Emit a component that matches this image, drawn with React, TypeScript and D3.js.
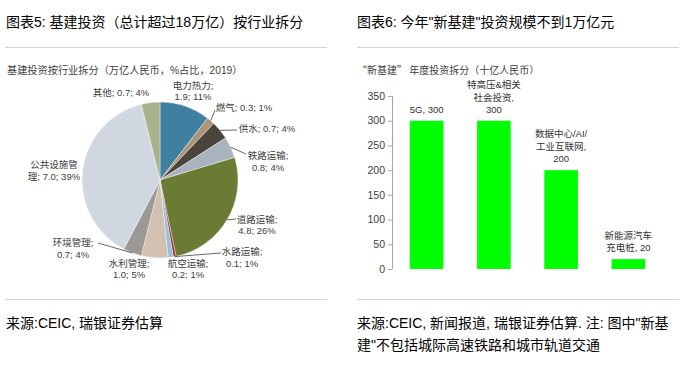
import React from "react";
import * as d3 from "d3";

// ---------- Data ----------
const pieNames = ["电力热力", "燃气", "供水", "铁路运输", "道路运输", "水路运输", "航空运输", "水利管理", "环境管理", "公共设施管理", "其他"];
const pieValues = [1.9, 0.3, 0.7, 0.8, 4.8, 0.1, 0.2, 1.0, 0.7, 7.0, 0.7];
const piePct = [11, 1, 4, 4, 26, 1, 1, 5, 4, 39, 4];
const pieColors = ["#3f7f9f", "#ad9478", "#4b433d", "#a9b2bf", "#6a7c33", "#a32a2a", "#92c0dd", "#d4c0b1", "#9c9994", "#d0d7e1", "#a8b28c"];

const barCategories = ["5G", "特高压&相关社会投资", "数据中心/AI/工业互联网", "新能源汽车充电桩"];
const barValues = [300, 300, 200, 20];
const barLabelLines = [
  ["5G, 300"],
  ["特高压&相关", "社会投资,", "300"],
  ["数据中心/AI/", "工业互联网,", "200"],
  ["新能源汽车", "充电桩, 20"],
];
const yTicks = [0, 50, 100, 150, 200, 250, 300, 350];

// ---------- Layout (not data) ----------
// label mode: 1 = single line, 2 = name / value line, 3 = custom split
const pieLabelMode = [2, 1, 1, 2, 2, 2, 2, 2, 2, 3, 1];
const pieLabelOffset: [number, number][] = [
  [33, -89], [84, -72], [107, -51], [108, -18.5], [97, 45], [82, 77.5],
  [28, 89], [-31, 89], [-87, 68.5], [-106, -9.5], [-39, -87],
];
const leaderEnds: ([number, number] | null)[] = [
  null, [55, -70], [77, -50], [86, -26], [76, 39], [61, 73], null, null, [-62, 63], null, null,
];

const FONT = "'Liberation Sans', Arial, 'Noto Sans CJK SC', sans-serif";
const CJKFONT = "'Noto Sans CJK SC', 'Liberation Sans', sans-serif";

function pieLabel(i: number): string[] {
  const n = pieNames[i];
  const tail = `${pieValues[i].toFixed(1)}; ${piePct[i]}%`;
  if (pieLabelMode[i] === 1) return [`${n}; ${tail}`];
  if (pieLabelMode[i] === 2) return [`${n};`, tail];
  return [n.slice(0, 5), `${n.slice(5)}; ${tail}`];
}

export default function App() {
  const cx = 160, cy = 180, R = 78;
  const pie = d3.pie<number>().sort(null).value((d) => d);
  const arcs = pie(pieValues);
  const arc = d3.arc<d3.PieArcDatum<number>>().innerRadius(0).outerRadius(R);

  // Bar chart scales
  const x = d3.scaleBand<string>().domain(barCategories).range([393, 662]).paddingInner(0.5).paddingOuter(0.25);
  const y = d3.scaleLinear().domain([0, 350]).range([269, 96]);
  const axisX = 392;

  return (
    <svg width={693} height={366} style={{ position: "absolute", left: 0, top: 0, background: "#fff", fontFamily: FONT }}>
      {/* Left panel header */}
      <text x={6} y={27} fontSize={14} fill="#000">图表5: 基建投资（总计超过18万亿）按行业拆分</text>
      <line x1={5} x2={327} y1={47.5} y2={47.5} stroke="#d4d4d4" />
      <text x={7} y={74} fontSize={10.2} fill="#404040">基建投资按行业拆分（万亿人民币，%占比，2019）</text>

      {/* Pie */}
      <g transform={`translate(${cx},${cy})`}>
        {arcs.map((a, i) => (
          <path key={i} d={arc(a) || ""} fill={pieColors[i]} stroke="#fff" strokeWidth={0.4} />
        ))}
        {arcs.map((a, i) => {
          const end = leaderEnds[i];
          if (!end) return null;
          const mid = (a.startAngle + a.endAngle) / 2;
          const sx = Math.sin(mid) * R, sy = -Math.cos(mid) * R;
          return <line key={"l" + i} x1={sx} y1={sy} x2={end[0]} y2={end[1]} stroke="#404040" strokeWidth={0.8} />;
        })}
        {arcs.map((a, i) => {
          const lines = pieLabel(i);
          const [dx, dy] = pieLabelOffset[i];
          const lh = 11.5;
          const y0 = dy - ((lines.length - 1) * lh) / 2;
          return (
            <text key={"t" + i} fontSize={9.5} fill="#404040" textAnchor="middle">
              {lines.map((s, k) => (
                <tspan key={k} x={dx} y={y0 + k * lh} dy="0.35em">{s}</tspan>
              ))}
            </text>
          );
        })}
      </g>

      {/* Right panel header */}
      <text x={357} y={27} fontSize={14} fill="#000">图表6: 今年"新基建"投资规模不到1万亿元</text>
      <line x1={357} x2={679} y1={47.5} y2={47.5} stroke="#d4d4d4" />
      <text x={357} y={74} fontSize={10} fill="#404040" fontFamily={CJKFONT}>“新基建” 年度投资拆分（十亿人民币）</text>

      {/* Bar chart */}
      <line x1={axisX + 0.5} x2={axisX + 0.5} y1={y(350)} y2={y(0)} stroke="#a6a6a6" />
      {yTicks.map((t) => (
        <g key={t}>
          <line x1={axisX - 4} x2={axisX} y1={y(t) + 0.5} y2={y(t) + 0.5} stroke="#a6a6a6" />
          <text x={385} y={y(t)} dy="0.35em" fontSize={10.5} fill="#404040" textAnchor="end">{t}</text>
        </g>
      ))}
      {barCategories.map((c, i) => (
        <rect key={c} x={x(c)} y={y(barValues[i])} width={x.bandwidth()} height={y(0) - y(barValues[i])} fill="#00ff00" />
      ))}
      {barCategories.map((c, i) => {
        const lines = barLabelLines[i];
        const cxb = (x(c) || 0) + x.bandwidth() / 2;
        const last = y(barValues[i]) - 11;
        const lh = 12.5;
        return (
          <text key={"bl" + c} fontSize={9.5} fill="#333" textAnchor="middle">
            {lines.map((s, k) => (
              <tspan key={k} x={cxb} y={last - (lines.length - 1 - k) * lh} dy="0.35em">{s}</tspan>
            ))}
          </text>
        );
      })}

      {/* Footers */}
      <line x1={5} x2={327} y1={299.5} y2={299.5} stroke="#d4d4d4" />
      <text x={6} y={328} fontSize={14} fill="#000">来源:CEIC, 瑞银证券估算</text>
      <line x1={357} x2={679} y1={299.5} y2={299.5} stroke="#d4d4d4" />
      <text x={357} y={328} fontSize={14} fill="#000">来源:CEIC, 新闻报道, 瑞银证券估算. 注: 图中"新基</text>
      <text x={357} y={350} fontSize={14} fill="#000">建"不包括城际高速铁路和城市轨道交通</text>
    </svg>
  );
}
